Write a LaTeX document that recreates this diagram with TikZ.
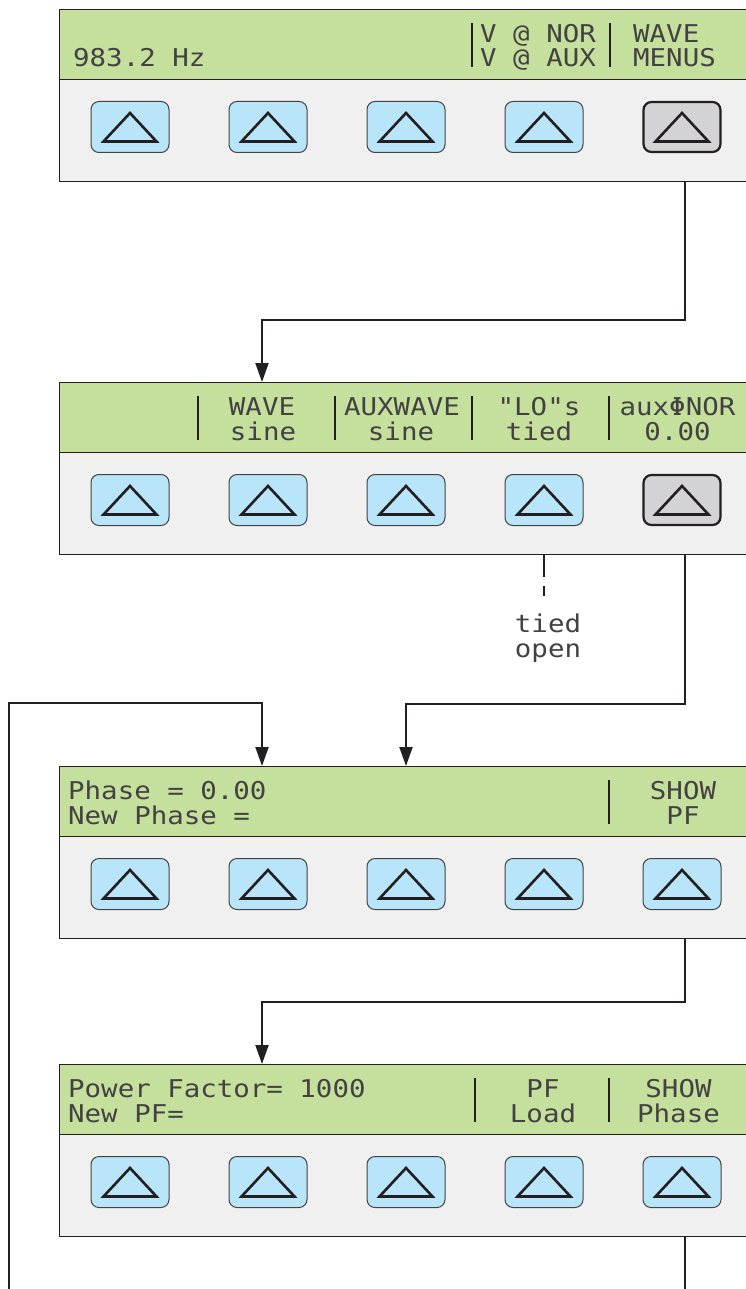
\documentclass[tikz,border=0pt]{standalone}
\usepackage{fontspec}
\newfontfamily\lcd[FakeStretch=1.12]{DejaVu Sans Mono}
\usetikzlibrary{arrows.meta,calc}
\definecolor{lcdgreen}{HTML}{C5DF9D}
\definecolor{panelgray}{HTML}{F0F0F0}
\definecolor{keyblue}{HTML}{B8E5F9}
\definecolor{keygray}{HTML}{D3D3D5}
\definecolor{ink}{HTML}{231F20}
\tikzset{
  panelbody/.style={draw=ink, line width=1.4pt, fill=panelgray, rectangle, inner sep=0pt, anchor=north west, minimum width=701pt, minimum height=172pt},
  band/.style={draw=ink, line width=1.4pt, fill=lcdgreen, rectangle, inner sep=0pt, anchor=north west, minimum width=701pt, minimum height=70pt},
  bluekey/.style={draw=ink!85, line width=1pt, fill=keyblue, rectangle, rounded corners=8pt, minimum width=78pt, minimum height=51pt, inner sep=0pt},
  graykey/.style={draw=ink, line width=2.2pt, fill=keygray, rectangle, rounded corners=8pt, minimum width=77pt, minimum height=50pt, inner sep=0pt},
  tri/.style={draw=ink, line width=2.6pt, line join=miter},
  lcdtext/.style={inner sep=0pt, text=ink!85, font=\lcd\fontsize{24.5}{25}\selectfont},
  lt/.style={lcdtext, anchor=base west},
  ct/.style={lcdtext, anchor=base},
  bar/.style={draw=ink, line width=2pt},
  conn/.style={draw=ink, line width=2pt},
  arr/.style={conn, -{Triangle[length=19pt,width=13pt]}},
}
\newcommand\lcdpanel[3]{%
  \node[panelbody] (#1) at (59,#2) {};
  \node[band] (#1g) at (59,#2) {};
  \foreach \i in {1,...,5}{%
    \pgfmathsetmacro\cx{130+138*(\i-1)}%
    \ifnum\i=#3 \def\keystyle{graykey}\else\def\keystyle{bluekey}\fi
    \node[\keystyle] (#1b\i) at (\cx,#2+118) {};
    \draw[tri] (#1b\i.center) ++(0,-14) -- ++(26.5,28.5) -- ++(-53,0) -- cycle;
  }%
}
\newcommand\lcdbar[2]{\draw[bar] (#1,#2+14) -- (#1,#2+58);}
\begin{document}
\begin{tikzpicture}[x=1pt,y=-1pt]
\clip (0,0) rectangle (746,1289);
\fill[white] (0,0) rectangle (746,1289);

\coordinate (x685) at (685,0);
\coordinate (x262) at (262,0);
\coordinate (x406) at (406,0);
\coordinate (x544) at (544,0);
\coordinate (bl) at (9,1295);
\coordinate (br) at (685,1295);
\coordinate (j3) at (262,703);

% panel 1
\lcdpanel{p1}{9}{5}
\lcdbar{472}{9}\lcdbar{610}{9}
\node[lt] (t1a) at (73,67) {983.2 Hz};
\node[lt] (t1b) at (480,42.5) {V @ NOR};
\node[lt] (t1c) at (480,67) {V @ AUX};
\node[lt] (t1d) at (633,42.5) {WAVE};
\node[lt] (t1e) at (633,67) {MENUS};

% panel 2
\lcdpanel{p2}{382}{5}
\lcdbar{198}{382}\lcdbar{335}{382}\lcdbar{472}{382}\lcdbar{609}{382}
\node[ct] (t2a) at (262,415.5) {WAVE};
\node[ct] (t2b) at (263,440) {sine};
\node[ct] (t2c) at (402,415.5) {AUXWAVE};
\node[ct] (t2d) at (401,440) {sine};
\node[ct] (t2e) at (539,415.5) {"LO"s};
\node[ct] (t2f) at (539,440) {tied};
\node[ct] (t2g) at (677.5,415.5) {auxΦNOR};
\node[ct] (t2h) at (677.5,440) {0.00};

% panel 3
\lcdpanel{p3}{766}{0}
\lcdbar{609}{766}
\node[lt] (t3a) at (68,799.5) {Phase = 0.00};
\node[lt] (t3b) at (68,824) {New Phase =};
\node[ct] (t3c) at (683,799.5) {SHOW};
\node[ct] (t3d) at (683,824) {PF};

% panel 4
\lcdpanel{p4}{1064}{0}
\lcdbar{475}{1064}\lcdbar{609}{1064}
\node[lt] (t4a) at (68,1097.5) {Power Factor= 1000};
\node[lt] (t4b) at (68,1122) {New PF=};
\node[ct] (t4c) at (543,1097.5) {PF};
\node[ct] (t4d) at (543,1122) {Load};
\node[ct] (t4e) at (678.5,1097.5) {SHOW};
\node[ct] (t4f) at (678.5,1122) {Phase};

% tied/open option
\draw[conn, dash pattern=on 22pt off 9pt on 10pt off 100pt] (p2.south -| x544) -- ++(0,44);
\node[ct] (o1) at (548,632) {tied};
\node[ct] (o2) at (548,657) {open};

% connectors
\draw[arr] (p1.south -| x685) -- ++(0,138) -| (p2.north -| x262);
\draw[arr] (p2.south -| x685) -- ++(0,149) -| (p3.north -| x406);
\draw[arr] (bl) |- (j3) -- (p3.north -| j3);
\draw[arr] (p3.south -| x685) -- ++(0,63) -| (p4.north -| x262);
\draw[conn] (p4.south -| x685) -- (br);
\end{tikzpicture}
\end{document}
